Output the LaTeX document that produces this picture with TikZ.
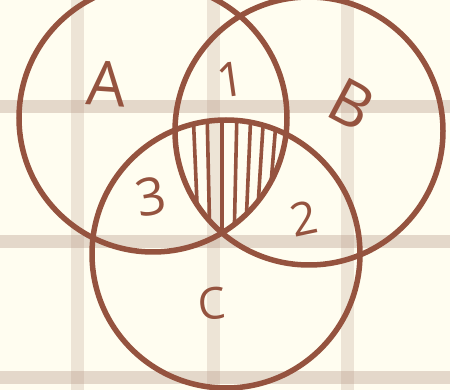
\documentclass[tikz,border=0pt]{standalone}
\usepackage{fontspec}
\newfontfamily\handfont{Open Sans}
\usepackage{xcolor}
\usetikzlibrary{positioning}

\definecolor{paper}{HTML}{FFFDF0}
\definecolor{gridc}{HTML}{B89A8A}
\definecolor{ink}{HTML}{95533F}

\begin{document}
\begin{tikzpicture}[
  x=1pt, y=-1pt,
  ring/.style  = {draw=ink, line width=5.5pt},
  hatch/.style = {draw=ink, line width=3.6pt},
  vline/.style = {draw=gridc, line width=13pt, opacity=0.25},
  hline/.style = {draw=gridc, line width=13pt, opacity=0.37},
  lbl/.style   = {text=ink, inner sep=0pt, font=\handfont},
]

% ---------- paper ----------
\fill[paper] (0,0) rectangle (450,390);
\useasboundingbox (0,0) rectangle (450,390);
\begin{scope}
  \clip (0,0) rectangle (450,390);
  \foreach \gx in {77,213,347}
    \draw[vline] (\gx,0) -- (\gx,390);
  \foreach \gy in {107,242,377}
    \draw[hline] (0,\gy) -- (450,\gy);
\end{scope}

% ---------- sets ----------
\coordinate (cA) at (153,118);
\coordinate (cB) at (309,131);
\coordinate (cC) at (226,254);

% ---------- A and B and C ----------
\begin{scope}
  \clip (cA) circle[radius=134pt];
  \clip (cB) circle[radius=134pt];
  \clip (cC) circle[radius=134pt];
  \foreach \t in {193,207,222,237,251,264,277}
    \draw[hatch] (\t,110) -- ({222+(\t-222)*0.8},245);
\end{scope}

\draw[ring] (cA) circle[radius=134pt];
\draw[ring] (cB) circle[radius=134pt];
\draw[ring] (cC) circle[radius=134pt];

% ---------- labels ----------
\node[lbl, font=\handfont\fontsize{62}{62}\selectfont, rotate=-4]  (lblA) at (107,84)  {A};
\node[lbl, font=\handfont\fontsize{62}{62}\selectfont, rotate=-28] (lblB) at (352,104) {B};
\node[lbl, font=\handfont\fontsize{44}{44}\selectfont, rotate=5]   (lblC) at (212,304) {C};
\node[lbl, font=\handfont\fontsize{48}{48}\selectfont, rotate=8]   (lbl1) at (231,80)  {1};
\node[lbl, font=\handfont\fontsize{46}{46}\selectfont, rotate=12]  (lbl2) at (304,218) {2};
\node[lbl, font=\handfont\fontsize{52}{52}\selectfont, rotate=10]  (lbl3) at (151,197) {3};

\end{tikzpicture}
\end{document}
